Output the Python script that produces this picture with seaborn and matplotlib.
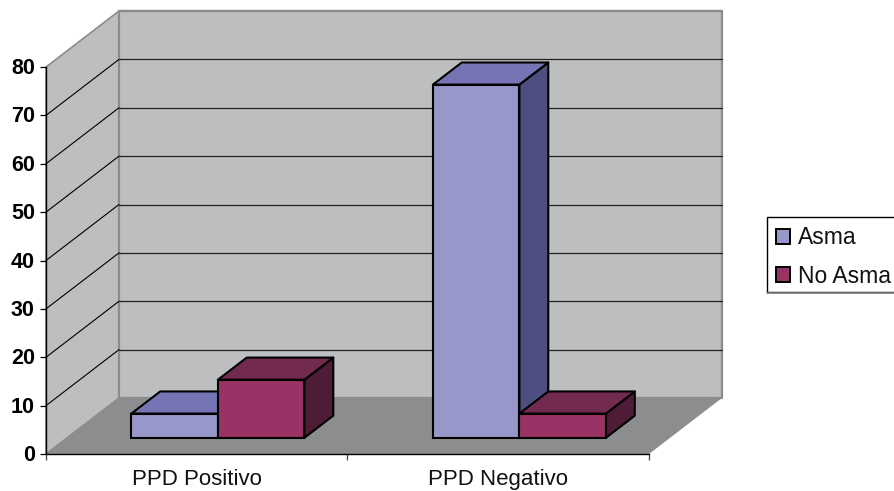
import matplotlib
matplotlib.use("Agg")
import matplotlib.pyplot as plt
import numpy as np
import pandas as pd
import seaborn as sns
from matplotlib.lines import Line2D
from matplotlib.patches import Polygon, Rectangle
from matplotlib.transforms import Affine2D, IdentityTransform

categories = ["PPD Positivo", "PPD Negativo"]
asma_values = [5, 73]
no_asma_values = [12, 5]
series_names = ["Asma", "No Asma"]
y_ticks = [0, 10, 20, 30, 40, 50, 60, 70, 80]

front_colors = ["#9897c9", "#993366"]
top_colors = ["#7574b4", "#732a4f"]
side_colors = ["#4e4e80", "#4e1c36"]
WALL = "#bdbec0"
FLOOR = "#8c8d8e"
WALL_EDGE = "#8b8c8e"

W, H = 895, 491
DEPTH_X, DEPTH_Y = 73.0, 56.0      # oblique shift from the front plane to the back wall, px
BAR_FRONT = 0.29                   # bar front face, as a fraction of the floor depth
BAR_BACK = 0.685                   # bar back face, same fraction

frame = pd.DataFrame({
    "categoria": categories * 2,
    "serie": [series_names[0]] * 2 + [series_names[1]] * 2,
    "valor": asma_values + no_asma_values,
})

sns.set_theme(style="white")
plt.rcParams["font.family"] = ["Liberation Sans", "DejaVu Sans"]
plt.rcParams["legend.fancybox"] = False

fig = plt.figure(figsize=(W / 100, H / 100), dpi=100, facecolor="white")
ax = fig.add_axes([46 / W, (H - 454) / H, 603 / W, 387 / H], facecolor="none")

sns.barplot(data=frame, x="categoria", y="valor", hue="serie", order=categories,
            hue_order=series_names, palette=front_colors, saturation=1, width=0.574,
            edgecolor="black", linewidth=1.5, ax=ax)
ax.set_xlim(-0.5, 1.5)
ax.set_ylim(0, 80)
ax.set_xlabel("")
ax.set_ylabel("")


def project(x, y, depth=0.0):
    """Data point on a plane at the given depth (0 front, 1 back wall), in pixels."""
    px, py = ax.transData.transform((x, y))
    return (px + depth * DEPTH_X, py + depth * DEPTH_Y)


def face(points, color, z, edge="none", lw=0.0):
    ax.add_patch(Polygon(points, closed=True, facecolor=color, edgecolor=edge, linewidth=lw,
                         transform=IdentityTransform(), clip_on=False, zorder=z, joinstyle="round"))


def wire(p, q, color, lw, z):
    ax.add_line(Line2D([p[0], q[0]], [p[1], q[1]], color=color, linewidth=lw,
                       transform=IdentityTransform(), clip_on=False, zorder=z))


# Chart box: left wall, back wall and floor
x0, x1 = ax.get_xlim()
face([project(x0, 0), project(x0, 80), project(x0, 80, 1), project(x0, 0, 1)], WALL, 0.1, WALL_EDGE, 1.2)
face([project(x0, 0, 1), project(x0, 80, 1), project(x1, 80, 1), project(x1, 0, 1)], WALL, 0.1, WALL_EDGE, 1.6)
face([project(x0, 0), project(x1, 0), project(x1, 0, 1), project(x0, 0, 1)], FLOOR, 0.2)

for v in y_ticks[1:-1]:
    wire(project(x0, v), project(x0, v, 1), "black", 0.8, 0.3)
    wire(project(x0, v, 1), project(x1, v, 1), "#222222", 0.9, 0.3)
wire(project(x0, 80, 1), project(x1, 80, 1), WALL_EDGE, 1.6, 0.3)

# Extrude each bar: side and top faces first, then the seaborn front face over them
shift = Affine2D().translate(BAR_FRONT * DEPTH_X, BAR_FRONT * DEPTH_Y)
bars = [b for container in ax.containers for b in container]
n_cat = len(categories)
for i, bar in enumerate(bars):
    s = i // n_cat
    z = 1 + s
    left, right = bar.get_x(), bar.get_x() + bar.get_width()
    top = bar.get_height()
    d0, d1 = BAR_FRONT, BAR_BACK
    face([project(right, 0, d0), project(right, top, d0), project(right, top, d1), project(right, 0, d1)],
         side_colors[s], z, "black", 1.5)
    face([project(left, top, d0), project(right, top, d0), project(right, top, d1), project(left, top, d1)],
         top_colors[s], z, "black", 1.5)
    bar.set_transform(ax.transData + shift)
    bar.set_clip_on(False)
    bar.set_zorder(z + 0.5)

# Axes lines and ticks
sns.despine(ax=ax, top=True, right=True)
for side in ("left", "bottom"):
    ax.spines[side].set_color("black")
    ax.spines[side].set_linewidth(1.0)
    ax.spines[side].set_zorder(3)
ax.set_yticks(y_ticks)
ax.set_yticklabels([str(v) for v in y_ticks], fontsize=15.5, fontweight="bold", color="black")
ax.tick_params(axis="y", left=True, length=4.5, width=0.9, color="black", pad=3.5)
ax.set_xticks(range(len(categories)))
ax.set_xticklabels(categories, fontsize=16, color="#111111")
ax.set_xticks([-0.5, 0.5, 1.5], minor=True)
ax.tick_params(axis="x", which="major", bottom=False, pad=5)
ax.tick_params(axis="x", which="minor", bottom=True, length=4.5, width=0.9, color="#444444")
for label in ax.get_yticklabels():
    label.set_transform(label.get_transform() + Affine2D().translate(0, 1))

# Legend box, open past the right edge of the figure, with the entries laid over it
ax.add_patch(Rectangle((767 / W, (H - 292) / H), 140 / W, 75 / H, facecolor="white",
                       edgecolor="black", linewidth=1.0, transform=fig.transFigure,
                       clip_on=False, zorder=4))
ax.add_line(Line2D([767 / W, 1], [(H - 293) / H] * 2, color="#808080", linewidth=1.2,
                   transform=fig.transFigure, clip_on=False, zorder=4))
sns.move_legend(ax, loc="upper left", bbox_to_anchor=(776 / W, (H - 226.5) / H),
                bbox_transform=fig.transFigure, title=None, frameon=False, fontsize=16.5,
                handlelength=0.61, handleheight=0.61, handletextpad=0.34, labelspacing=0.66,
                borderpad=0, borderaxespad=0)
legend = ax.get_legend()
legend.set_zorder(5)
for text in legend.get_texts():
    text.set_color("#111111")
for handle in legend.get_patches():
    handle.set_edgecolor("black")
    handle.set_linewidth(1.4)

fig.savefig("out.png", dpi=100)
